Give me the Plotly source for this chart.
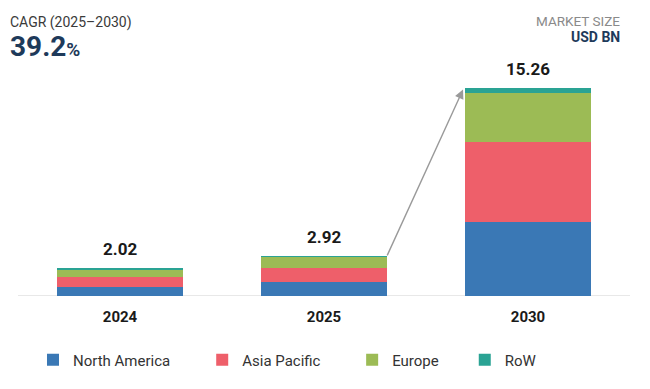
import plotly.graph_objects as go

years = ["2024", "2025", "2030"]
north_america = [0.66, 1.03, 5.43]
asia_pacific = [0.73, 1.03, 5.87]
europe = [0.59, 0.81, 3.60]
row = [0.04, 0.05, 0.36]
totals = [2.02, 2.92, 15.26]
total_labels = ["2.02", "2.92", "15.26"]
series_names = ["North America", "Asia Pacific", "Europe", "RoW"]
colors = ["#3a78b5", "#ee5f6a", "#9cbb55", "#2aa394"]
cagr_label = "CAGR (2025\u20132030)"
cagr_value = "39.2"

font_family = "Roboto, Arial, sans-serif"
bargap = 0.387
legend_x = [0.0245, 0.301, 0.546, 0.730]

fig = go.Figure()
values = [north_america, asia_pacific, europe, row]
for i, (name, vals, col) in enumerate(zip(series_names, values, colors)):
    fig.add_trace(go.Bar(
        x=years, y=vals, name=name, marker=dict(color=col, line=dict(width=0)),
        legend="legend" if i == 0 else f"legend{i+1}",
        hoverinfo="skip",
    ))

# value labels above bars (category index positions)
for idx, (tot, lab) in enumerate(zip(totals, total_labels)):
    fig.add_annotation(x=idx, y=tot, xref="x", yref="y", text=f"<b>{lab}</b>", showarrow=False,
                       yanchor="bottom", yshift=7,
                       font=dict(family=font_family, size=17, color="#1a1a1a"))

# growth arrow from 2025 bar top-right to 2030 bar top-left
hw = (1 - bargap) / 2
fig.add_annotation(x=2 - hw - 0.012, y=totals[2] - 0.12, ax=1 + hw, ay=totals[1] - 0.05,
                   xref="x", yref="y", axref="x", ayref="y", text="",
                   showarrow=True, arrowhead=2, arrowsize=1.3, arrowwidth=1.4,
                   arrowcolor="#9a9a9a", standoff=0, startstandoff=0)

# header texts
fig.add_annotation(xref="paper", yref="paper", x=-0.016, y=1.0, xanchor="left", yanchor="bottom",
                   yshift=27, text=cagr_label, showarrow=False,
                   font=dict(family=font_family, size=14, color="#3a3a3a"))
fig.add_annotation(xref="paper", yref="paper", x=-0.016, y=1.0, xanchor="left", yanchor="bottom",
                   yshift=-5,
                   text=f"<b>{cagr_value}</b><span style='font-size:19px'><b>%</b></span>",
                   showarrow=False,
                   font=dict(family=font_family, size=28, color="#1e3a5a"))
fig.add_annotation(xref="paper", yref="paper", x=0.987, y=1.0, xanchor="right", yanchor="bottom",
                   yshift=29, text="MARKET SIZE", showarrow=False,
                   font=dict(family=font_family, size=13.5, color="#8a8a8a"))
fig.add_annotation(xref="paper", yref="paper", x=0.987, y=1.0, xanchor="right", yanchor="bottom",
                   yshift=13, text="<b>USD BN</b>", showarrow=False,
                   font=dict(family=font_family, size=14, color="#1e3a5a"))

legend_common = dict(orientation="h", yanchor="middle", xanchor="left", y=-0.271,
                     font=dict(family=font_family, size=15, color="#333333"),
                     bgcolor="rgba(0,0,0,0)", itemclick=False, itemdoubleclick=False)
fig.update_layout(
    barmode="stack",
    bargap=bargap,
    width=650, height=389,
    autosize=False,
    margin=dict(l=18, r=20, t=60, b=93, autoexpand=False),
    paper_bgcolor="white", plot_bgcolor="white",
    font=dict(family=font_family),
    showlegend=True,
    legend=dict(x=legend_x[0], **legend_common),
    legend2=dict(x=legend_x[1], **legend_common),
    legend3=dict(x=legend_x[2], **legend_common),
    legend4=dict(x=legend_x[3], **legend_common),
    xaxis=dict(type="category", categoryorder="array", categoryarray=years,
               range=[-0.5, len(years) - 0.5], autorange=False,
               showgrid=False, showline=False, zeroline=False,
               ticks="outside", ticklen=7, tickcolor="rgba(0,0,0,0)",
               tickfont=dict(family=font_family, size=15, color="#1a1a1a", weight="bold"),
               fixedrange=True),
    yaxis=dict(range=[0, 17.31], autorange=False, visible=False, showgrid=False, fixedrange=True),
)
fig.add_shape(type="line", xref="paper", yref="y", x0=0, x1=1, y0=0, y1=0,
              line=dict(color="#e0e0e0", width=1.5), layer="below")

fig.write_html("out.html", config={"displayModeBar": False},
               post_script="document.body.style.margin='0';")
